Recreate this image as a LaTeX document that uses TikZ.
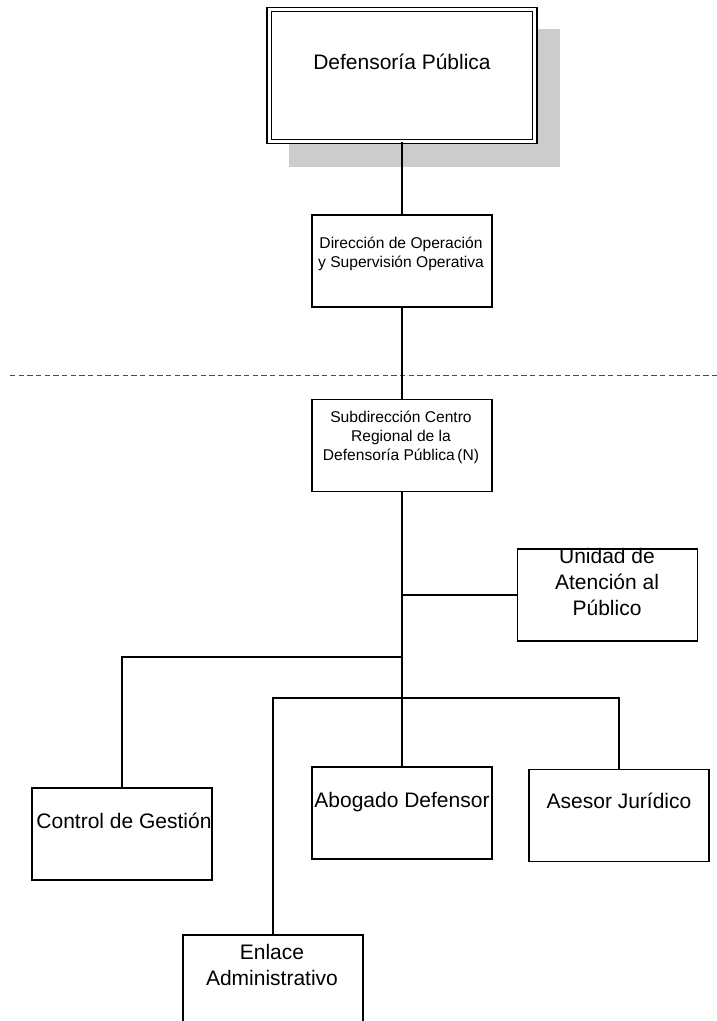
\documentclass[tikz,border=0pt]{standalone}
\usepackage{fontspec}
\setmainfont{Liberation Sans}

\begin{document}
\begin{tikzpicture}[x=0.75pt, y=-0.75pt,
    box/.style={draw, line width=1.1pt, inner sep=0pt, minimum width=135pt, minimum height=69pt},
    link/.style={line width=1pt},
    cut/.style={gray!60!black, line width=0.6pt, dash pattern=on 4pt off 2.5pt},
    bigtxt/.style={font=\fontsize{15.75}{19.5}\selectfont, align=center, inner sep=0pt, anchor=base},
    smalltxt/.style={font=\fontsize{11.7}{14.25}\selectfont, align=center, inner sep=0pt, anchor=base}]
    \useasboundingbox (0,0) rectangle (717,1021);

    % Head office with shadow
    \fill[gray!40] (289,29) rectangle (560,167);
    \node[draw, double, line width=1.1pt, double distance=2.2pt, fill=white,
          minimum width=199pt, minimum height=99pt] (head) at (402,75.5) {};
    \node[bigtxt] (headT) at (402,69) {Defensoría Pública};

    % Direction
    \node[box] (dir) at (402,261) {};
    \node[smalltxt] (dirT) at (401,267) {Dirección de Operación\\y Supervisión Operativa};

    % Boundary
    \coordinate (cutL) at (10,375);
    \coordinate (cutR) at (717,375);
    \draw[cut] (cutL) -- (cutR);

    % Regional centre
    \node[box] (sub) at (402,445.5) {};
    \node[smalltxt] (subT) at (401,460) {Subdirección Centro\\Regional de la\\Defensoría Pública\,(N)};

    % Units
    \node[box] (uni) at (607.5,595) {};
    \node[bigtxt] (uniT) at (607,615) {Unidad de\\Atención al\\Público};
    \node[box] (ctl) at (122,834) {};
    \node[bigtxt] (ctlT) at (124,828) {Control de Gestión};
    \node[box] (abo) at (402,813) {};
    \node[bigtxt] (aboT) at (402,807) {Abogado Defensor};
    \node[box] (ase) at (619,815.5) {};
    \node[bigtxt] (aseT) at (619,808) {Asesor Jurídico};
    \node[box] (enl) at (273,981) {};
    \node[bigtxt] (enlT) at (272,985) {Enlace\\Administrativo};

    % Connectors
    \coordinate (jCtl) at (402,657);
    \coordinate (bus) at (402,698);
    \draw[link] (head.south) -- (dir.north);
    \draw[link] (dir.south) -- (sub.north);
    \draw[link] (sub.south) -- (bus);
    \draw[link] (uni.west) -- (uni.west -| bus);
    \draw[link] (ctl.north) |- (jCtl);
    \draw[link] (enl.north) |- (bus) -| (ase.north);
    \draw[link] (bus) -- (abo.north);
\end{tikzpicture}
\end{document}
